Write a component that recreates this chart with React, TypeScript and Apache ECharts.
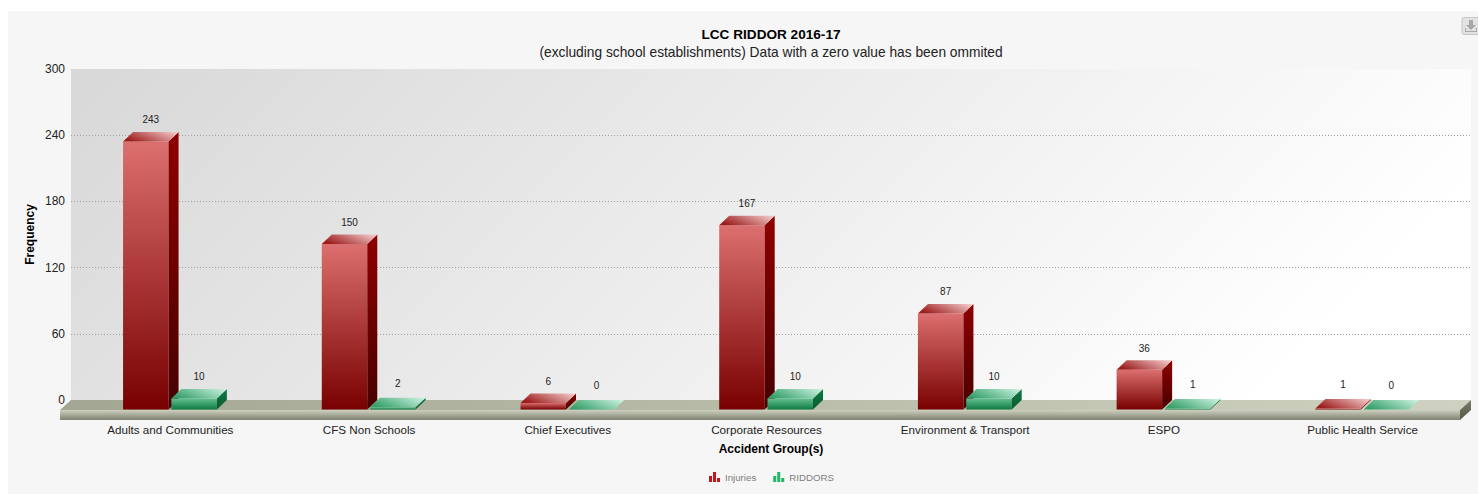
import React, { useEffect, useRef } from "react";
import * as echarts from "echarts";

const categories = [
  "Adults and Communities",
  "CFS Non Schools",
  "Chief Executives",
  "Corporate Resources",
  "Environment & Transport",
  "ESPO",
  "Public Health Service",
];
const injuries = [243, 150, 6, 167, 87, 36, 1];
const riddors = [10, 2, 0, 10, 10, 1, 0];

const DEPTH_X = 10;
const DEPTH_Y = 9.5;
const BAR_WIDTH = 45.5;
const font = "Liberation Sans, Arial, sans-serif";

type Palette = { frontTop: string; frontBottom: string; sideTop: string; sideBottom: string; topLeft: string; topRight: string };

const red: Palette = {
  frontTop: "#dc6f6f", frontBottom: "#780000",
  sideTop: "#8f0000", sideBottom: "#470000",
  topLeft: "#9c1c1c", topRight: "#f2c6c6",
};
const green: Palette = {
  frontTop: "#66c092", frontBottom: "#0d7a40",
  sideTop: "#0f7a45", sideBottom: "#0a5a30",
  topLeft: "#35a06a", topRight: "#c6efdc",
};

const vgrad = (a: string, b: string) =>
  new echarts.graphic.LinearGradient(0, 0, 0, 1, [
    { offset: 0, color: a },
    { offset: 1, color: b },
  ]);

// A box with visible front, top and right faces; the category coordinate marks the front face.
const boxSeries = (name: string, values: number[], colors: Palette, offset: number, legendColor: string) => ({
  name,
  type: "custom",
  xAxisIndex: 1,
  yAxisIndex: 1,
  z: 5,
  itemStyle: { color: legendColor },
  data: values.map((v, i) => [i, v]),
  encode: { x: 0, y: 1 },
  renderItem: (_: unknown, api: any) => {
    const [cx, yBack] = api.coord([api.value(0), api.value(1)]);
    const [, y0Back] = api.coord([api.value(0), 0]);
    const x0 = cx + offset;
    const x1 = x0 + BAR_WIDTH;
    const yTop = yBack + DEPTH_Y;
    const yBase = y0Back + DEPTH_Y;
    const children: any[] = [];
    if (yBase - yTop > 0.5) {
      children.push({
        type: "rect",
        shape: { x: x0, y: yTop, width: BAR_WIDTH, height: yBase - yTop },
        style: { fill: vgrad(colors.frontTop, colors.frontBottom) },
      });
      children.push({
        type: "polygon",
        shape: { points: [[x1, yTop], [x1 + DEPTH_X, yBack], [x1 + DEPTH_X, y0Back], [x1, yBase]] },
        style: { fill: vgrad(colors.sideTop, colors.sideBottom) },
      });
    }
    children.push({
      type: "polygon",
      shape: { points: [[x0, yTop], [x0 + DEPTH_X, yBack], [x1 + DEPTH_X, yBack], [x1, yTop]] },
      style: {
        fill: new echarts.graphic.LinearGradient(0, 0.6, 1, 0.2, [
          { offset: 0, color: colors.topLeft },
          { offset: 1, color: colors.topRight },
        ]),
      },
    });
    // Near-flat boxes carry their value a little higher above the top face.
    const labelGap = api.value(1) <= 2 ? 14.5 : 12.2;
    children.push({
      type: "text",
      style: {
        text: String(api.value(1)),
        x: x0 + (BAR_WIDTH + DEPTH_X) / 2,
        y: yBack - labelGap,
        align: "center",
        verticalAlign: "middle",
        fontSize: 10,
        fontFamily: font,
        fill: "#222",
      },
    });
    return { type: "group", children };
  },
});

// Raised floor slab under the columns, spanning the whole plot back wall.
const floorSeries = {
  type: "custom",
  xAxisIndex: 0,
  yAxisIndex: 0,
  z: 3,
  silent: true,
  data: [[0, 0]],
  encode: { x: 0, y: 1 },
  renderItem: (params: any, api: any) => {
    const { x, width } = params.coordSys;
    const [, y] = api.coord([0, 0]);
    const right = x + width;
    const dx = 11;
    const dy = 10;
    const thick = 10;
    return {
      type: "group",
      children: [
        {
          type: "polygon",
          shape: { points: [[x, y], [right, y], [right - dx, y + dy], [x - dx, y + dy]] },
          style: {
            fill: new echarts.graphic.LinearGradient(0, 0, 1, 0, [
              { offset: 0, color: "#a3a692" },
              { offset: 1, color: "#cfd2c0" },
            ]),
          },
        },
        {
          type: "rect",
          shape: { x: x - dx, y: y + dy, width, height: thick },
          style: { fill: vgrad("#cdd0bf", "#7f8270") },
        },
        {
          type: "polygon",
          shape: { points: [[right - dx, y + dy], [right, y], [right, y + thick], [right - dx, y + dy + thick]] },
          style: { fill: vgrad("#7a7d69", "#55584a") },
        },
      ],
    };
  },
};

const BAR_ICON = "path://M0 4H3V10H0ZM4 0H7V10H4ZM8 6H11V10H8Z";

echarts.graphic.registerShape(
  "saveIcon",
  echarts.graphic.extendPath("M4 0H8V5H11L6 10L1 5H4ZM0 8H1V11H11V8H12V12H0Z", {})
);

export default function App() {
  const ref = useRef<HTMLDivElement>(null);
  useEffect(() => {
    document.body.style.margin = "0";
    document.body.style.overflow = "hidden";
    const chart = echarts.init(ref.current!, undefined, { renderer: "svg" });
    chart.setOption({
      animation: false,
      backgroundColor: "#ffffff",
      textStyle: { fontFamily: font },
      title: {
        text: "LCC RIDDOR 2016-17",
        subtext: "(excluding school establishments) Data with a zero value has been ommited",
        left: 766,
        top: 21,
        textAlign: "center",
        itemGap: 2,
        textStyle: { fontSize: 13.6, fontWeight: "bold", color: "#000", fontFamily: font, lineHeight: 16 },
        subtextStyle: { fontSize: 13.75, color: "#222", fontFamily: font, lineHeight: 16 },
      },
      legend: {
        left: 704,
        top: 467,
        itemWidth: 11,
        itemHeight: 10,
        itemGap: 17,
        selectedMode: false,
        data: [
          { name: "Injuries", icon: BAR_ICON },
          { name: "RIDDORS", icon: BAR_ICON },
        ],
        textStyle: { fontSize: 9.7, color: "#7d7d7d", fontFamily: font },
      },
      grid: [
        {
          left: 71, width: 1400, top: 69, height: 331,
          show: true,
          borderWidth: 0,
          backgroundColor: new echarts.graphic.LinearGradient(71, 69, 831, 829, [
            { offset: 0, color: "#d8d8d8" },
            { offset: 1, color: "#ffffff" },
          ], true),
        },
        { left: 71, width: 1391, top: 69, height: 331 },
      ],
      xAxis: [
        { type: "category", gridIndex: 0, data: categories, show: false },
        {
          type: "category",
          gridIndex: 1,
          data: categories,
          axisLine: { show: false },
          axisTick: { show: false },
          axisLabel: { margin: 23, fontSize: 11.65, color: "#222", fontFamily: font, interval: 0 },
          name: "Accident Group(s)",
          nameLocation: "middle",
          nameGap: 43,
          nameMoveOverlap: false,
          nameTextStyle: { fontSize: 12, fontWeight: "bold", color: "#000", fontFamily: font, padding: [0, 0, 0, 9] },
        },
      ],
      yAxis: [
        {
          type: "value",
          gridIndex: 0,
          min: 0,
          max: 300,
          interval: 60,
          axisLine: { show: false },
          axisTick: { show: false },
          axisLabel: { margin: 6, fontSize: 12, color: "#222", fontFamily: font },
          splitLine: { show: true, showMaxLine: false, lineStyle: { type: [1, 2], color: "#a0a0a0", width: 1 } },
          name: "Frequency",
          nameLocation: "middle",
          nameGap: 35,
          nameMoveOverlap: false,
          nameRotate: 90,
          nameTextStyle: { fontSize: 12, fontWeight: "bold", color: "#000", fontFamily: font },
        },
        { type: "value", gridIndex: 1, min: 0, max: 300, interval: 60, show: false },
      ],
      series: [
        floorSeries,
        boxSeries("Injuries", injuries, red, -47.3, "#c8141a"),
        boxSeries("RIDDORS", riddors, green, 1, "#1fb866"),
      ],
      graphic: [
        { type: "rect", z: -10, shape: { x: 8, y: 11, width: 1470, height: 483 }, style: { fill: "#f6f6f6" } },
        {
          type: "rect",
          z: 10,
          shape: { x: 1462, y: 17.5, width: 20, height: 17, r: 2 },
          style: { fill: "#e2e2e2", stroke: "#c6c6c6", lineWidth: 1 },
        },
        { type: "saveIcon", z: 11, x: 1465, y: 20, scaleX: 1, scaleY: 1, style: { fill: "#a8a8a8" } },
      ],
    });
    return () => chart.dispose();
  }, []);
  return <div ref={ref} style={{ position: "fixed", left: 0, top: 0, width: 1478, height: 494 }} />;
}
